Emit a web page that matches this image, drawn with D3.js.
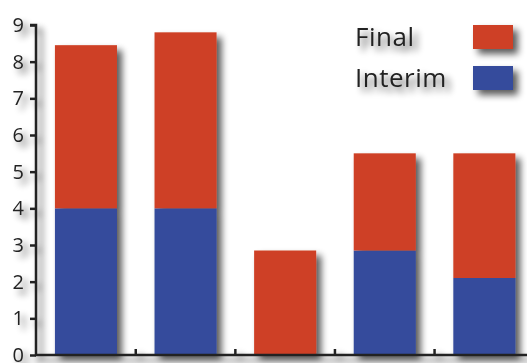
<!DOCTYPE html>
<html>
<head>
<meta charset="utf-8">
<script src="https://cdn.jsdelivr.net/npm/d3@7"></script>
<style>
  html, body { margin: 0; padding: 0; background: #fff; }
  svg { display: block; font-family: "Open Sans", "DejaVu Sans", sans-serif; }
</style>
</head>
<body>
<svg id="chart" width="527" height="363"></svg>
<script>
// Stacked results per group: interim part at the bottom, final part on top
const categories = ["A", "B", "C", "D", "E"];
const interim = [4, 4, 0, 2.85, 2.1];
const final = [4.45, 4.8, 2.85, 2.65, 3.4];
const yTicks = [0, 1, 2, 3, 4, 5, 6, 7, 8, 9];
const seriesNames = ["Final", "Interim"];
const seriesColors = { Final: "#CE4027", Interim: "#354B9C" };

const svg = d3.select("#chart");

// soft drop shadow shared by all marks
const defs = svg.append("defs");
const f = defs.append("filter").attr("id", "shadow")
  .attr("x", "-20%").attr("y", "-20%").attr("width", "160%").attr("height", "160%");
f.append("feGaussianBlur").attr("in", "SourceAlpha").attr("stdDeviation", 3.5).attr("result", "b");
f.append("feOffset").attr("in", "b").attr("dx", 5).attr("dy", 5).attr("result", "o");
f.append("feComponentTransfer").attr("in", "o").attr("result", "s")
  .append("feFuncA").attr("type", "linear").attr("slope", 0.65);
const m = f.append("feMerge");
m.append("feMergeNode").attr("in", "s");
m.append("feMergeNode").attr("in", "SourceGraphic");

const x0 = 36, yBase = 355, yTop = 25;

const x = d3.scaleBand().domain(categories).range([x0, 534.3])
  .paddingInner(0.377).paddingOuter(0.19);
const y = d3.scaleLinear().domain([0, 9]).range([yBase, yTop]);

const rows = categories.map((c, i) => ({ cat: c, Interim: interim[i], Final: final[i] }));
const stacked = d3.stack().keys(["Interim", "Final"])(rows);

const g = svg.append("g").attr("filter", "url(#shadow)");

// bars
g.selectAll("g.series").data(stacked).join("g")
  .attr("class", "series")
  .attr("fill", d => seriesColors[d.key])
  .selectAll("rect").data(d => d.filter(p => p[1] - p[0] > 0)).join("rect")
  .attr("x", d => x(d.data.cat))
  .attr("width", x.bandwidth())
  .attr("y", d => y(d[1]))
  .attr("height", d => y(d[0]) - y(d[1]));

// y axis
const yAxis = d3.axisLeft(y).tickValues(yTicks).tickFormat(d3.format("d"))
  .tickSize(6).tickPadding(6);
const ya = g.append("g").attr("transform", `translate(${x0},0)`).call(yAxis);
ya.select(".domain").attr("stroke", "#222").attr("stroke-width", 2.5)
  .attr("d", `M-6,${yTop}H0V${yBase}`);
ya.selectAll(".tick line").attr("stroke", "#222").attr("stroke-width", 2.5);
ya.selectAll(".tick text").attr("fill", "#222").attr("font-size", 20)
  .attr("font-family", "'Open Sans', sans-serif");

// x axis baseline with separators between groups
const bounds = categories.slice(1).map(c => x(c) - x.step() * x.paddingInner() / 2);
const xa = g.append("g");
xa.append("line").attr("x1", x0 - 1).attr("x2", 527).attr("y1", yBase).attr("y2", yBase)
  .attr("stroke", "#222").attr("stroke-width", 2.5);
xa.selectAll("line.sep").data(bounds).join("line").attr("class", "sep")
  .attr("x1", d => d).attr("x2", d => d)
  .attr("y1", yBase).attr("y2", yBase - 6)
  .attr("stroke", "#222").attr("stroke-width", 2.5);

// legend
const leg = g.append("g");
const legY = { Final: 25, Interim: 66 };
seriesNames.forEach(name => {
  leg.append("text").attr("x", 355).attr("y", legY[name] + 21)
    .attr("font-size", 26).attr("fill", "#222").attr("letter-spacing", 0.5)
    .text(name);
  leg.append("rect").attr("x", 473).attr("y", legY[name])
    .attr("width", 40).attr("height", 24)
    .attr("fill", seriesColors[name]);
});
</script>
</body>
</html>
